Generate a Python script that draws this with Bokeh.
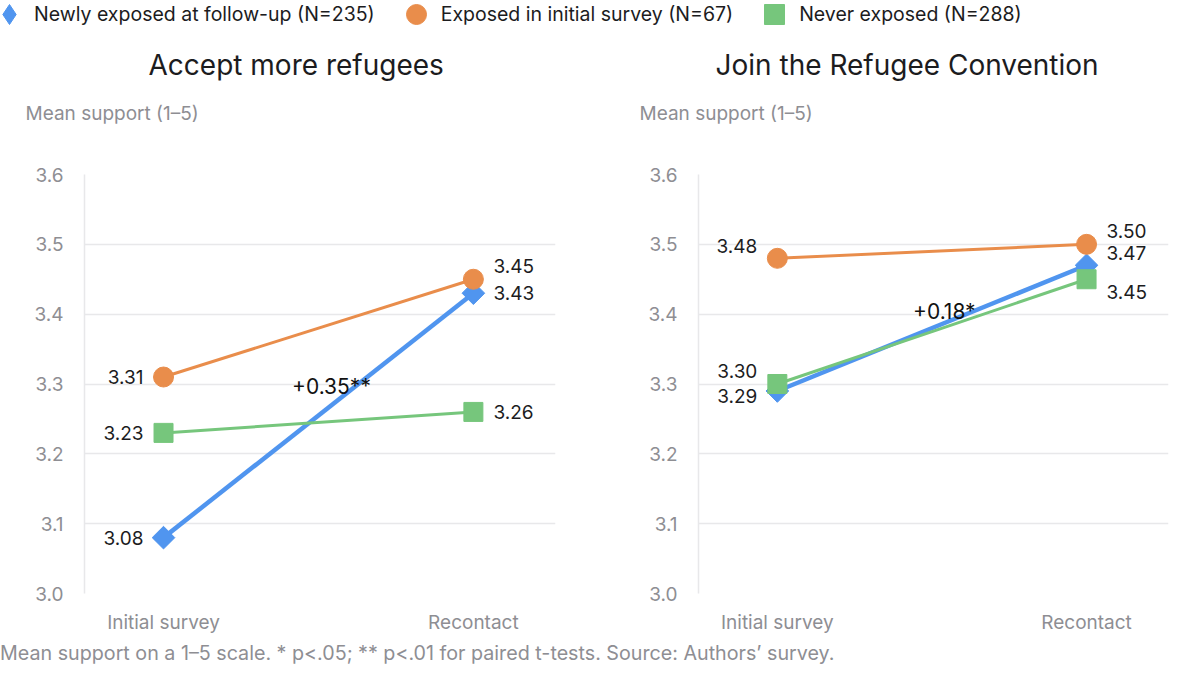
import math
from bokeh.plotting import figure
from bokeh.models import (ColumnDataSource, FixedTicker, NumeralTickFormatter, Title,
                          Legend, LegendItem, Range1d, Div, Label)
from bokeh.layouts import column, row
from bokeh.embed import file_html
from bokeh.resources import INLINE
from bokeh.core.properties import value

# ---------------- data ----------------
categories = ["Initial survey", "Recontact"]
groups = ["Newly exposed at follow-up (N=235)",
          "Exposed in initial survey (N=67)",
          "Never exposed (N=288)"]
panel_titles = ["Accept more refugees", "Join the Refugee Convention"]

accept_newly = [3.08, 3.43]
accept_initial = [3.31, 3.45]
accept_never = [3.23, 3.26]

convention_newly = [3.29, 3.47]
convention_initial = [3.48, 3.50]
convention_never = [3.30, 3.45]

change_labels = ["+0.35**", "+0.18*"]
y_ticks = [3.0, 3.1, 3.2, 3.3, 3.4, 3.5, 3.6]
y_label = "Mean support (1–5)"
footnote = "Mean support on a 1–5 scale. * p<.05; ** p<.01 for paired t-tests. Source: Authors’ survey."

# ---------------- styles ----------------
FONT = "Inter"
BLUE = "#5095ef"
ORANGE = "#e98d4b"
GREEN = "#76c67c"
DARK = "#1c1c1e"
GRAY = "#8e8e93"
GRID = "#e8e8ea"
DIAMOND_ANGLE = math.pi / 4

# per-point label vertical offsets (px, positive = down) -- layout only
offsets = [
    {"newly": [0, 0], "initial": [0, -13], "never": [0, 0]},
    {"newly": [5, -12], "initial": [-12, -13], "never": [-13, 13]},
]
# annotation anchor positions in data space -- layout only
change_pos = [(0.542, 3.296), (0.540, 3.404)]
title_offsets = [64, 17]

xs = list(range(len(categories)))


def make_panel(title, newly, initial, never, offs, change_text, cpos, t_off,
               width, border_left, border_right):
    p = figure(width=width, height=606, output_backend="svg", toolbar_location=None,
               x_range=Range1d(-0.255, 1.265), y_range=Range1d(y_ticks[0], y_ticks[-1]),
               min_border_left=border_left, min_border_right=border_right,
               min_border_top=144, min_border_bottom=40, title=None)
    p.outline_line_color = None
    p.background_fill_color = "white"
    p.border_fill_color = "white"

    # stacked titles above the frame (first added = closest to the frame)
    p.add_layout(Title(text=" ", text_font_size="1px", standoff=42), "above")
    p.add_layout(Title(text=y_label, align="left", offset=-59, standoff=10,
                       text_font=FONT, text_font_size="19px", text_font_style="normal",
                       text_color=GRAY), "above")
    p.add_layout(Title(text=title, align="left", offset=t_off, standoff=26,
                       text_font=FONT, text_font_size="28px", text_font_style="normal",
                       text_color=DARK), "above")

    # axes
    p.xaxis.ticker = FixedTicker(ticks=xs)
    p.xaxis.major_label_overrides = {i: c for i, c in enumerate(categories)}
    p.xaxis.axis_line_color = None
    p.xaxis.major_tick_line_color = None
    p.xaxis.minor_tick_line_color = None
    p.xaxis.major_label_text_font = FONT
    p.xaxis.major_label_text_font_size = "19px"
    p.xaxis.major_label_text_color = GRAY
    p.xaxis.major_label_standoff = 11

    p.yaxis.ticker = FixedTicker(ticks=y_ticks)
    p.yaxis.formatter = NumeralTickFormatter(format="0.0")
    p.yaxis.axis_line_color = GRID
    p.yaxis.axis_line_width = 1.5
    p.yaxis.major_tick_line_color = None
    p.yaxis.minor_tick_line_color = None
    p.yaxis.major_label_text_font = FONT
    p.yaxis.major_label_text_font_size = "19px"
    p.yaxis.major_label_text_color = GRAY
    p.yaxis.major_label_standoff = 15

    p.xgrid.grid_line_color = None
    p.ygrid.grid_line_color = GRID
    p.ygrid.grid_line_width = 1.5

    series = [
        ("newly", newly, BLUE, 4.5),
        ("never", never, GREEN, 3),
        ("initial", initial, ORANGE, 3),
    ]
    for key, vals, col, lw in series:
        src = ColumnDataSource(dict(x=xs, y=vals, lab=[f"{v:.2f}" for v in vals],
                                    align=["right", "left"],
                                    xo=[-20, 20], yo=offs[key]))
        p.line("x", "y", source=src, line_color=col, line_width=lw)
        if key == "newly":
            p.scatter("x", "y", source=src, marker="square", size=16, angle=DIAMOND_ANGLE,
                      fill_color=col, line_color=col)
        elif key == "initial":
            p.scatter("x", "y", source=src, marker="circle", size=20,
                      fill_color=col, line_color=col)
        else:
            p.scatter("x", "y", source=src, marker="square", size=19,
                      fill_color=col, line_color=col)
        p.text("x", "y", text="lab", source=src, x_offset="xo", y_offset="yo",
               text_align="align", text_baseline="middle",
               text_font=value(FONT), text_font_size="19px", text_color=DARK)

    p.add_layout(Label(x=cpos[0], y=cpos[1], text=change_text, text_align="center",
                       text_baseline="middle", text_font=FONT, text_font_size="21px",
                       text_color="#111111"))
    return p


p1 = make_panel(panel_titles[0], accept_newly, accept_initial, accept_never,
                offsets[0], change_labels[0], change_pos[0], title_offsets[0], 600, 84, 45)
p2 = make_panel(panel_titles[1], convention_newly, convention_initial, convention_never,
                offsets[1], change_labels[1], change_pos[1], title_offsets[1], 584, 98, 16)

# ---------------- legend strip ----------------
lg = figure(width=1184, height=30, output_backend="svg", toolbar_location=None,
            x_range=Range1d(0, 1), y_range=Range1d(0, 1),
            min_border=0, min_border_left=0, min_border_right=0,
            min_border_top=0, min_border_bottom=0)
lg.axis.visible = False
lg.grid.visible = False
lg.outline_line_color = None
nan_src = ColumnDataSource(dict(x=[float("nan")], y=[float("nan")]))
r_blue = lg.scatter("x", "y", source=nan_src, marker="diamond", size=24,
                    fill_color=BLUE, line_color=BLUE)
r_orange = lg.scatter("x", "y", source=nan_src, marker="circle", size=20,
                      fill_color=ORANGE, line_color=ORANGE)
r_green = lg.scatter("x", "y", source=nan_src, marker="square", size=20,
                     fill_color=GREEN, line_color=GREEN)
legend = Legend(items=[LegendItem(label=groups[0], renderers=[r_blue]),
                       LegendItem(label=groups[1], renderers=[r_orange]),
                       LegendItem(label=groups[2], renderers=[r_green])],
                orientation="horizontal", location=(-16, -9),
                glyph_width=50, glyph_height=50, label_standoff=0, spacing=16,
                padding=0, margin=0, border_line_color=None,
                background_fill_alpha=0,
                label_text_font=FONT, label_text_font_size="19.5px", label_text_color=DARK,
                label_text_baseline="middle")
lg.add_layout(legend)

foot = Div(text=footnote, width=1184, height=25, margin=0,
           styles={"font-family": FONT, "font-size": "19.7px", "color": GRAY,
                   "line-height": "16px", "padding-top": "9px", "white-space": "nowrap"})

layout = column(lg, row(p1, p2), foot)

with open("out.html", "w") as f:
    f.write(file_html(layout, INLINE))
